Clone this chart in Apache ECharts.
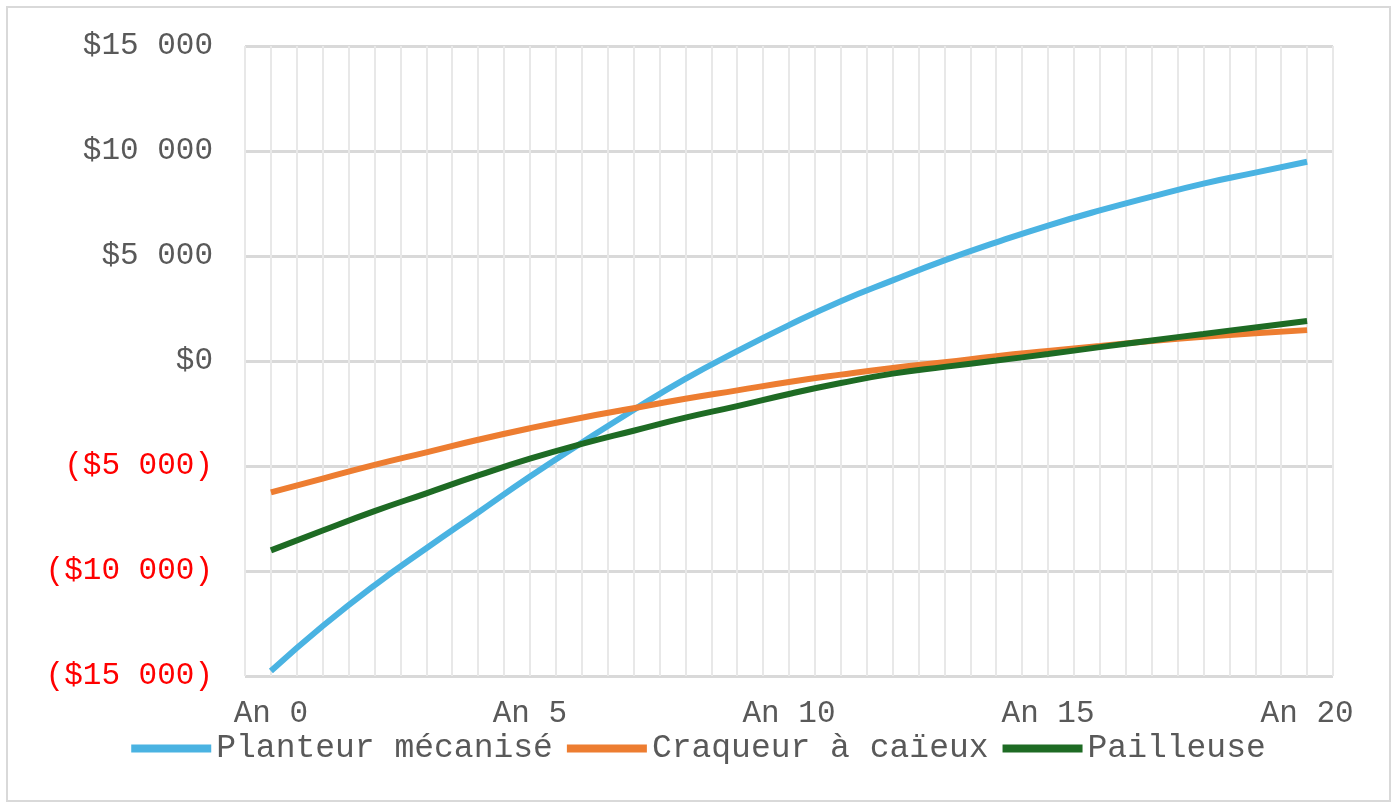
<!DOCTYPE html>
<html><head><meta charset="utf-8">
<script src="https://cdn.jsdelivr.net/npm/echarts@6/dist/echarts.min.js"></script>
<style>html,body{margin:0;padding:0;background:#fff}
#c{position:absolute;left:6px;top:6px;width:1385px;height:796px;border:2px solid #d9d9d9;box-sizing:border-box}</style>
</head><body><div id="c"></div>
<script>
const years = [0,1,2,3,4,5,6,7,8,9,10,11,12,13,14,15,16,17,18,19,20];
const planteur = [-14760,-12620,-10680,-8920,-7210,-5500,-3890,-2330,-850,470,1710,2850,3840,4790,5650,6450,7170,7830,8450,8970,9490];
const craqueur = [-6260,-5600,-4950,-4350,-3750,-3200,-2700,-2250,-1800,-1400,-1000,-650,-330,-60,230,480,720,950,1150,1320,1470];
const pailleuse = [-9020,-8070,-7150,-6300,-5450,-4650,-3950,-3320,-2700,-2150,-1570,-1050,-600,-280,20,330,660,980,1290,1600,1900];
const yTicks = [-15000,-10000,-5000,0,5000,10000,15000];
const font = "'Liberation Mono', 'DejaVu Sans Mono', monospace";
function fmt(v){const a=Math.abs(v);let s=a>=1000?Math.floor(a/1000)+' '+String(a%1000).padStart(3,'0'):String(a);return v<0?'($'+s+')':'$'+s;}
const chart = echarts.init(document.getElementById('c'));
const mk = (name, arr, color) => ({name, type:'line', smooth:true, showSymbol:false, data: years.map((y,i)=>[y,arr[i]]), lineStyle:{width:6,color}, itemStyle:{color}});
chart.setOption({
  animation:false,
  grid:{left:237,right:56,top:38,bottom:124},
  legend:{bottom:30,left:'center',itemWidth:80,itemHeight:8,itemGap:14,icon:'rect',
    textStyle:{fontFamily:font,fontSize:33,color:'#595959'}},
  xAxis:{type:'value',min:-0.5,max:20.5,interval:0.5,
    axisLine:{show:true,onZero:true,lineStyle:{color:'rgba(0,0,0,0)'}},axisTick:{show:false},
    axisLabel:{margin:22, fontFamily:font,fontSize:31,color:'#595959',
      formatter:v=>(Number.isInteger(v)&&v%5===0)?'An '+v:''},
    splitLine:{show:true,lineStyle:{color:'#e8e8e8',width:2}}},
  yAxis:{type:'value',min:yTicks[0],max:yTicks[yTicks.length-1],interval:5000,
    axisLine:{show:false},axisTick:{show:false},
    axisLabel:{margin:32,fontFamily:font,fontSize:31,
      color:v=>v<0?'#ff0000':'#595959',formatter:fmt},
    splitLine:{lineStyle:{color:'#d9d9d9',width:3}}},
  series:[mk('Planteur mécanisé',planteur,'#4AB3E2'),mk('Craqueur à caïeux',craqueur,'#ED7D31'),mk('Pailleuse',pailleuse,'#1E6B24')]
});
</script></body></html>
